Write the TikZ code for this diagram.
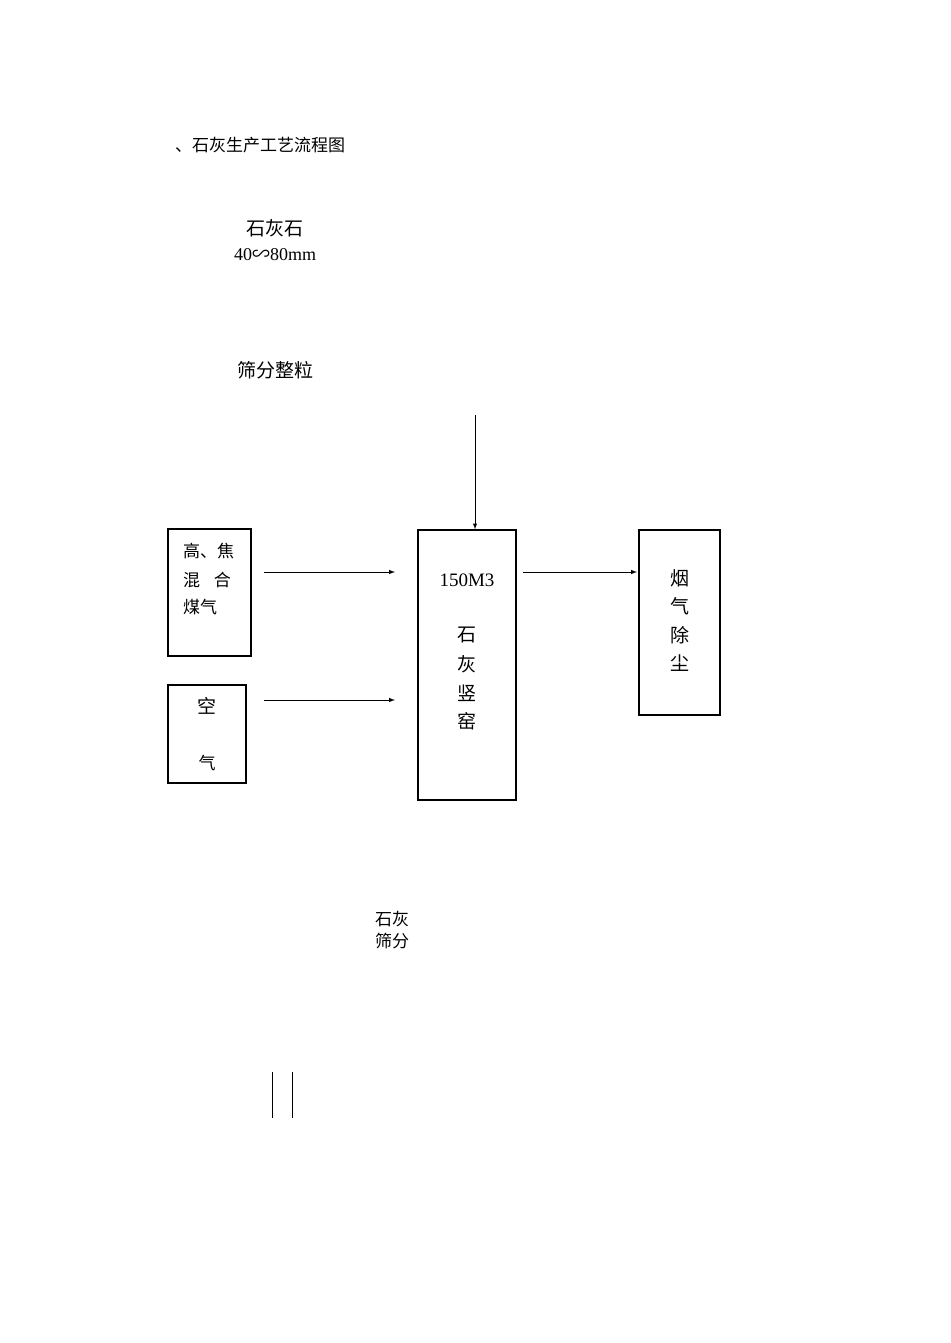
\documentclass[tikz,border=0pt]{standalone}
\usepackage{fontspec}
\setmainfont{Liberation Serif}
\newfontfamily\cjk{Noto Sans CJK SC}
\begin{document}
\begin{tikzpicture}[x=1pt,y=-1pt,
  bx/.style={draw,line width=1.3pt},
  ar/.style={-latex,line width=1pt},
  t/.style={inner sep=0pt,font=\cjk\fontsize{19}{19}\selectfont},
  s/.style={inner sep=0pt,font=\cjk\fontsize{17}{17}\selectfont}]
\useasboundingbox (0,0) rectangle (950,1343);
\node[s,anchor=west] (title) at (175,145) {、石灰生产工艺流程图};
\node[t] (ls) at (275,228) {石灰石};
\node[inner sep=0pt,font=\fontsize{18}{18}\selectfont] (sz) at (275,255) {40{\cjk ∽}80mm};
\node[t] (sf) at (275,370) {筛分整粒};
\coordinate (top) at (475,415);
\node[bx,minimum width=83pt,minimum height=127pt] (b1) at (209.5,592.5) {};
\node[s,anchor=west] (b1a) at (183,551) {高、焦};
\node[s,anchor=west] (b1b) at (183,580) {混\hspace{0.8em}合};
\node[s,anchor=west] (b1c) at (183,607) {煤气};
\node[bx,minimum width=78pt,minimum height=98pt] (b2) at (207,734) {};
\node[t] (k1) at (207,706) {空};
\node[s] (k2) at (207,763) {气};
\node[bx,minimum width=98pt,minimum height=270pt] (kiln) at (467,665) {};
\node[inner sep=0pt,font=\fontsize{19}{19}\selectfont] (kt) at (467,580) {150M3};
\node[t] (ka) at (467,635) {石};
\node[t] (kb) at (467,664) {灰};
\node[t] (kc) at (467,693) {竖};
\node[t] (kd) at (467,721) {窑};
\node[bx,minimum width=81pt,minimum height=185pt] (dust) at (679.5,622.5) {};
\node[t] (d1) at (680,578) {烟};
\node[t] (d2) at (680,606) {气};
\node[t] (d3) at (680,635) {除};
\node[t] (d4) at (680,663) {尘};
\draw[ar] (top) -- (kiln.north -| top);
\draw[ar] (264,572) -- (395,572);
\draw[ar] (264,700) -- (395,700);
\draw[ar] (523,572) -- (637,572);
\node[s] (h1) at (392,919) {石灰};
\node[s] (h2) at (392,941) {筛分};
\draw[line width=0.6pt] (272,1072) -- (272,1118) (292,1072) -- (292,1118);
\end{tikzpicture}
\end{document}
